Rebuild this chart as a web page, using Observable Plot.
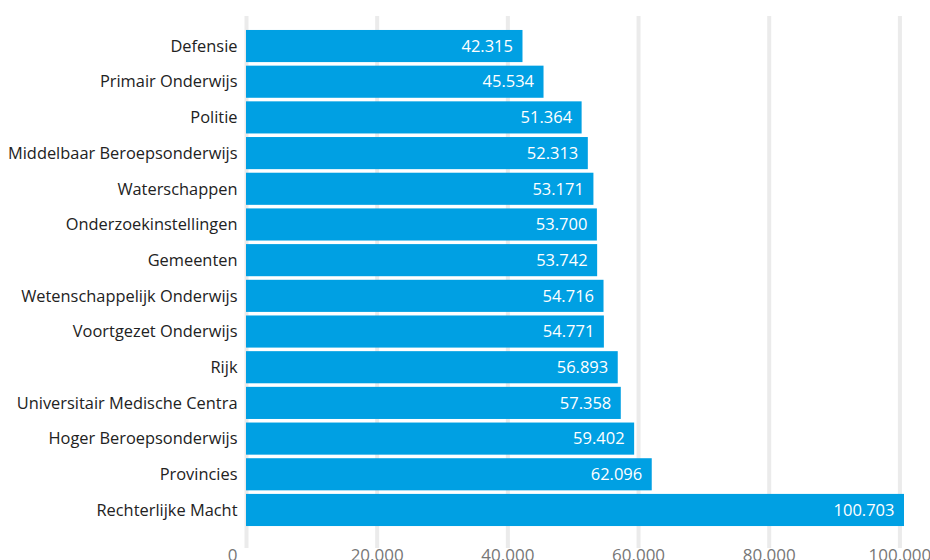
<!DOCTYPE html>
<html>
<head>
<meta charset="utf-8">
<script src="https://cdn.jsdelivr.net/npm/d3@7"></script>
<script src="https://cdn.jsdelivr.net/npm/@observablehq/plot@0.6"></script>
<style>
  body { margin: 0; background: #fff; }
  #chart { width: 930px; height: 560px; overflow: hidden; }
</style>
</head>
<body>
<div id="chart"></div>
<script>
const categories = [
  "Defensie",
  "Primair Onderwijs",
  "Politie",
  "Middelbaar Beroepsonderwijs",
  "Waterschappen",
  "Onderzoekinstellingen",
  "Gemeenten",
  "Wetenschappelijk Onderwijs",
  "Voortgezet Onderwijs",
  "Rijk",
  "Universitair Medische Centra",
  "Hoger Beroepsonderwijs",
  "Provincies",
  "Rechterlijke Macht"
];
const values = [42315, 45534, 51364, 52313, 53171, 53700, 53742, 54716, 54771, 56893, 57358, 59402, 62096, 100703];
const xTicks = [0, 20000, 40000, 60000, 80000, 100000];

const nl = d3.formatLocale({decimal: ",", thousands: ".", grouping: [3], currency: ["€", ""]});
const fmt = nl.format(",d");

const data = categories.map((c, i) => ({category: c, value: values[i]}));

const chart = Plot.plot({
  width: 930,
  height: 560,
  marginLeft: 246,
  marginRight: 26,
  marginTop: 16,
  marginBottom: 12,
  style: {fontFamily: "'Open Sans', sans-serif", fontSize: "16px", background: "#fff"},
  x: {domain: [0, 100703], axis: null},
  y: {domain: categories, axis: null, padding: 0.1, round: false, insetTop: 10.4, insetBottom: 18.4},
  marks: [
    Plot.ruleX(xTicks, {stroke: "#ebebeb", strokeWidth: 4}),
    Plot.barX(data, {y: "category", x: "value", fill: "#00a0e3"}),
    Plot.text(data, {y: "category", x: "value", text: d => fmt(d.value), fill: "#fff", textAnchor: "end", dx: -10, fontSize: 16.5}),
    Plot.axisY({tickSize: 0, tickPadding: 9, fontSize: 16.4, color: "#222", label: null}),
    Plot.axisX(xTicks.slice(1), {tickSize: 0, tickPadding: 0, tickFormat: fmt, color: "#777", fontSize: 17, label: null}),
    Plot.axisX([0], {tickSize: 0, tickPadding: 0, tickFormat: fmt, color: "#777", fontSize: 17, dx: -14, label: null})
  ]
});
document.getElementById("chart").appendChild(chart);
</script>
</body>
</html>
